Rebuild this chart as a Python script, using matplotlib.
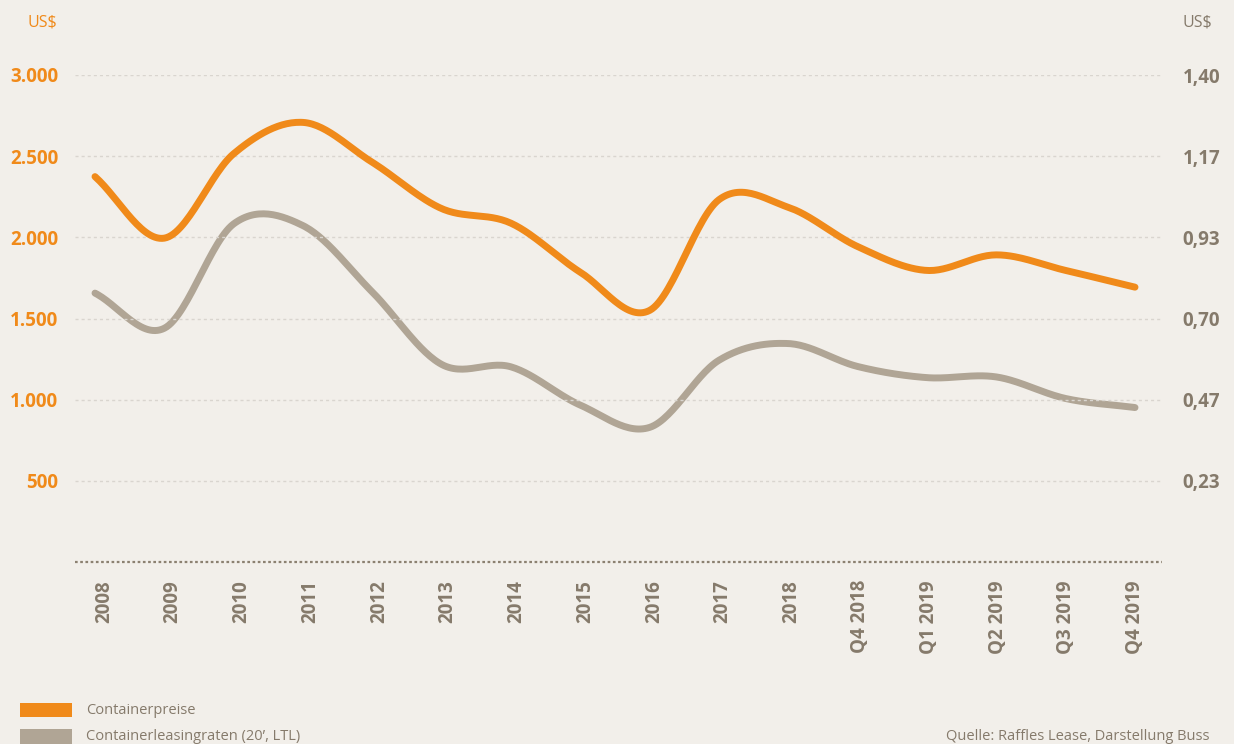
import numpy as np
import matplotlib
matplotlib.use("Agg")
import matplotlib.pyplot as plt
from matplotlib.patches import Rectangle
from matplotlib.transforms import ScaledTranslation

plt.rcParams['font.family'] = ['Open Sans', 'DejaVu Sans']

# ---- data ----
categories = ["2008", "2009", "2010", "2011", "2012", "2013", "2014", "2015",
              "2016", "2017", "2018", "Q4 2018", "Q1 2019", "Q2 2019", "Q3 2019", "Q4 2019"]
container_prices = [2374, 1995, 2515, 2708, 2462, 2177, 2087, 1785,
                    1550, 2232, 2185, 1943, 1796, 1892, 1796, 1693]
leasing_rates = [0.773, 0.672, 0.972, 0.967, 0.776, 0.568, 0.561, 0.451,
                 0.387, 0.580, 0.628, 0.562, 0.530, 0.532, 0.470, 0.444]
left_ticks = [500, 1000, 1500, 2000, 2500, 3000]
left_ticklabels = ["500", "1.000", "1.500", "2.000", "2.500", "3.000"]
right_ticks = [1.4 / 6 * k for k in range(1, 7)]
right_ticklabels = ["0,23", "0,47", "0,70", "0,93", "1,17", "1,40"]
legend_labels = ["Containerpreise", "Containerleasingraten (20’, LTL)"]
source_text = "Quelle: Raffles Lease, Darstellung Buss"

BG = "#F2EFEA"
ORANGE = "#F08A1A"
GRAY = "#B0A595"
TEXT = "#857A6B"
GRID = "#D9D5CF"


def catmull_rom(y, n=30):
    y = np.asarray(y, dtype=float)
    x = np.arange(len(y), dtype=float)
    m = np.zeros_like(y)
    m[1:-1] = (y[2:] - y[:-2]) / 2.0
    m[0] = (y[1] - y[0])
    m[-1] = (y[-1] - y[-2])
    xs, ys = [], []
    for i in range(len(y) - 1):
        t = np.linspace(0, 1, n, endpoint=(i == len(y) - 2))
        h00 = 2 * t**3 - 3 * t**2 + 1
        h10 = t**3 - 2 * t**2 + t
        h01 = -2 * t**3 + 3 * t**2
        h11 = t**3 - t**2
        ys.append(h00 * y[i] + h10 * m[i] + h01 * y[i + 1] + h11 * m[i + 1])
        xs.append(x[i] + t)
    return np.concatenate(xs), np.concatenate(ys)


W, H = 1234, 744
fig = plt.figure(figsize=(W / 100, H / 100), dpi=100, facecolor=BG)

ax_l, ax_r_px, ax_b, ax_t = 75, 1162, 562, 75
ax = fig.add_axes([ax_l / W, (H - ax_b) / H, (ax_r_px - ax_l) / W, (ax_b - ax_t) / H])
ax.set_facecolor(BG)
ax2 = ax.twinx()

n = len(categories)
step = (1135 - 95) / (n - 1)
x0 = -(95 - ax_l) / step
x1 = (n - 1) + (ax_r_px - 1135) / step
ax.set_xlim(x0, x1)
ax.set_ylim(0, 3000)
ax2.set_ylim(0, 1.4)

for a in (ax, ax2):
    for s in a.spines.values():
        s.set_visible(False)

# grid
for v in left_ticks:
    ax.axhline(v, color=GRID, lw=1.0, linestyle=(0, (2.2, 2.2)), zorder=1)
ax.axhline(0, color="#8C8171", lw=1.6, linestyle=(0, (1.2, 1.15)), zorder=2, clip_on=False)

# lines
xs, ys = catmull_rom(leasing_rates)
ax2.plot(xs, ys, color=GRAY, lw=5.0, solid_capstyle="round", zorder=3, clip_on=False)
xs, ys = catmull_rom(container_prices)
ax.plot(xs, ys, color=ORANGE, lw=5.0, solid_capstyle="round", zorder=4, clip_on=False)
ax.set_zorder(ax2.get_zorder() + 1)
ax.patch.set_visible(False)
ax2.patch.set_visible(True)
ax2.patch.set_facecolor(BG)

# ticks
ax.set_yticks(left_ticks)
ax.set_yticklabels(left_ticklabels, color=ORANGE, fontsize=13.5, fontweight="bold")
ax.tick_params(axis="y", length=0, pad=12)
ax2.set_yticks(right_ticks)
ax2.set_yticklabels(right_ticklabels, color=TEXT, fontsize=13.5, fontweight="bold")
ax2.tick_params(axis="y", length=0, pad=15)
ax.set_xticks(range(n))
ax.set_xticklabels(categories, rotation=90, color=TEXT, fontsize=13.5, fontweight="bold",
                   va="top", ha="center")
ax.tick_params(axis="x", length=0, pad=13)
for i, lbl in enumerate(ax.get_xticklabels()):
    dx = 9.0 * (1 - i / (n - 1)) / 100.0
    lbl.set_transform(lbl.get_transform() + ScaledTranslation(dx, 0, fig.dpi_scale_trans))

# unit labels
fig.text(57 / W, 1 - 22 / H, "US$", color=ORANGE, fontsize=11.5, ha="right", va="center")
fig.text(1183 / W, 1 - 22 / H, "US$", color=TEXT, fontsize=11.5, ha="left", va="center")

# legend
fig.patches.append(Rectangle((20 / W, 1 - 717 / H), 52 / W, 14 / H, transform=fig.transFigure,
                             facecolor=ORANGE, edgecolor="none"))
fig.patches.append(Rectangle((20 / W, 1 - 744 / H), 52 / W, 15 / H, transform=fig.transFigure,
                             facecolor=GRAY, edgecolor="none"))
fig.text(86 / W, 1 - 711 / H, legend_labels[0], color=TEXT, fontsize=10.5, ha="left", va="center")
fig.text(86 / W, 1 - 737 / H, legend_labels[1], color=TEXT, fontsize=10.5, ha="left", va="center")
fig.text(1210 / W, 1 - 737 / H, source_text, color=TEXT, fontsize=10.5, ha="right", va="center")

fig.savefig("out.png", dpi=100, facecolor=BG)
